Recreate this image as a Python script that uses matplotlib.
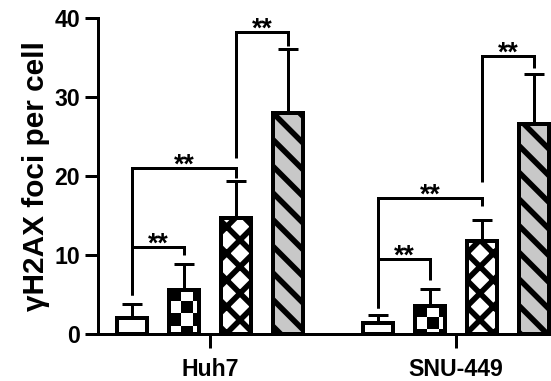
import numpy as np
import matplotlib
matplotlib.use("Agg")
import matplotlib.pyplot as plt

# ---------------- data ----------------
groups = ["Huh7", "SNU-449"]
means_huh7 = [2.0, 5.6, 14.7, 28.0]
means_snu = [1.4, 3.6, 11.8, 26.6]
err_huh7 = [1.8, 3.3, 4.7, 8.1]
err_snu = [1.0, 2.1, 2.6, 6.3]
yticks = [0, 10, 20, 30, 40]

# brackets: group index, left bar, right bar, top y, left leg bottom, right leg bottom
br_group = [0, 0, 0, 1, 1, 1]
br_left = [0, 0, 2, 0, 0, 2]
br_right = [1, 2, 3, 1, 2, 3]
br_top = [11.0, 21.0, 38.2, 9.5, 17.2, 35.2]
br_left_end = [4.9, 4.9, 22.3, 3.3, 3.3, 19.2]
br_right_end = [10.0, 19.8, 36.5, 6.8, 16.2, 33.7]
br_label = ["**"] * 6

# ---------------- style ----------------
DPI = 160
plt.rcParams["font.family"] = ["Liberation Sans", "DejaVu Sans"]
plt.rcParams["font.weight"] = "bold"
plt.rcParams["hatch.linewidth"] = 2.5
LW = 1.35

fig = plt.figure(figsize=(551 / DPI, 381 / DPI), dpi=DPI)
ax = fig.add_axes([98 / 551, 47 / 381, 453 / 551, 316 / 381])

spacing = 0.2114
width = 0.12
offsets = (np.arange(4) - 1.5) * spacing
centers = np.arange(len(groups))
means = [means_huh7, means_snu]
errs = [err_huh7, err_snu]

faces = ["white", "white", "white", "#c8c8c8"]
hatches = [None, None, "xx", "\\\\"]

for g in range(len(groups)):
    xs = centers[g] + offsets
    for i in range(4):
        # error bar (upper only)
        ax.errorbar(xs[i], means[g][i], yerr=[[0], [errs[g][i]]], fmt="none",
                    ecolor="black", elinewidth=LW, capsize=4.7, capthick=LW,
                    zorder=1)
        b = ax.bar(xs[i], means[g][i], width=width, color=faces[i],
                   edgecolor="black", linewidth=1.8, hatch=hatches[i],
                   zorder=2)
        if i == 1:
            patch = b.patches[0]
            sq_x = 0.0488
            sq_y = 1.52
            h = means[g][i]
            x0 = xs[i] - width / 2
            nc = int(np.ceil(width / sq_x))
            nr = int(np.ceil(h / sq_y))
            arr = np.fromfunction(lambda r, c: ((r + c) % 2).astype(float), (nr, nc))
            im = ax.imshow(arr, cmap="gray", vmin=0, vmax=1, interpolation="nearest",
                           extent=(x0, x0 + nc * sq_x, h - nr * sq_y, h),
                           origin="upper", aspect="auto", zorder=2.2)
            im.set_clip_path(patch)
            ax.bar(xs[i], means[g][i], width=width, facecolor="none",
                   edgecolor="black", linewidth=1.8, zorder=3)

# brackets
for k in range(len(br_group)):
    xg = centers[br_group[k]] + offsets
    x1 = xg[br_left[k]]
    x2 = xg[br_right[k]]
    ax.plot([x1, x1, x2, x2],
            [br_left_end[k], br_top[k], br_top[k], br_right_end[k]],
            color="black", lw=LW, solid_joinstyle="miter",
            solid_capstyle="butt", zorder=4)
    ax.annotate(br_label[k], xy=((x1 + x2) / 2, br_top[k]), xytext=(0, -2.0),
                textcoords="offset points", ha="center", va="baseline",
                fontsize=12, fontweight="bold", zorder=5)

ax.set_xlim(-0.455, 1.386)
ax.set_ylim(0, 40)
ax.set_yticks(yticks)
ax.set_yticklabels([str(t) for t in yticks])
ax.set_xticks(centers)
ax.set_xticklabels(groups)

for s in ["top", "right"]:
    ax.spines[s].set_visible(False)
for s in ["left", "bottom"]:
    ax.spines[s].set_linewidth(LW)
ax.tick_params(axis="y", length=5.85, width=LW, pad=2.3, labelsize=10.4)
ax.tick_params(axis="x", length=6.3, width=LW, pad=4.6, labelsize=10.4)
for lab in ax.get_xticklabels() + ax.get_yticklabels():
    lab.set_fontweight("bold")

ax.set_ylabel("γH2AX foci per cell", fontsize=13.4, fontweight="bold", labelpad=2)

fig.savefig("out.png", dpi=DPI)
